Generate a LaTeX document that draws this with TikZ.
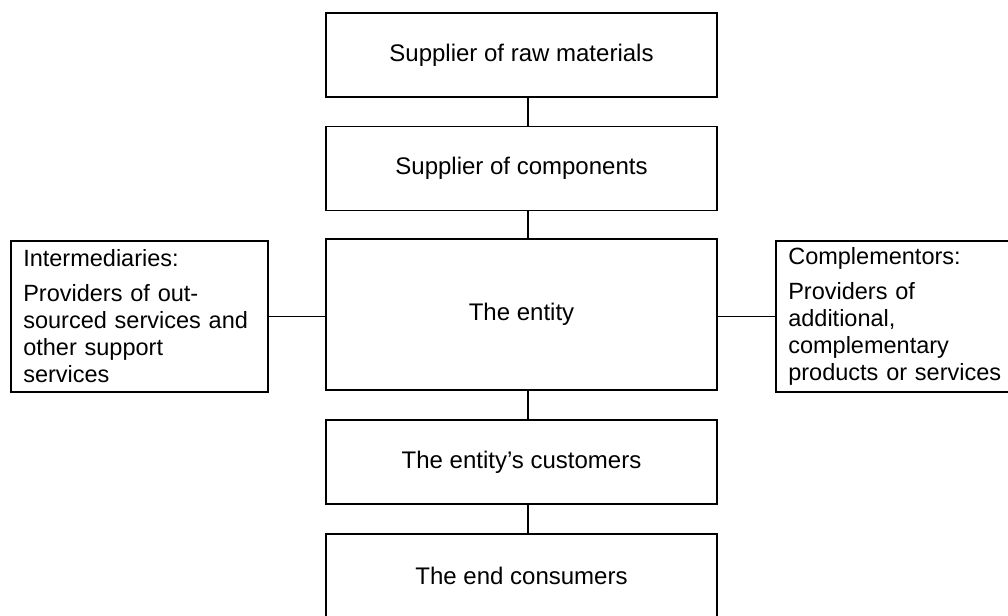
\documentclass[tikz,border=0pt]{standalone}
\usepackage{fontspec}
\setmainfont{Liberation Sans}
\begin{document}
\begin{tikzpicture}[x=1pt,y=-1pt,
  chainbox/.style={draw, line width=1.6pt, rectangle, minimum width=391pt,
    minimum height=84pt, inner sep=0pt, font=\fontsize{24}{27}\selectfont},
  sidebox/.style={draw, line width=1.6pt, rectangle, minimum height=151pt,
    text width=232pt, inner xsep=12.5pt, inner ysep=0pt, align=left,
    font=\fontsize{23.5}{27}\selectfont},
  link/.style={line width=1.6pt}]
\useasboundingbox (0,0) rectangle (1008,615);
\clip (0,0) rectangle (1008,615);

% value chain, top to bottom
\node[chainbox] (raw) at (521.5,55) {Supplier of raw materials};
\node[chainbox] (comp) at (521.5,168.5) {Supplier of components};
\node[chainbox, minimum height=151pt] (entity) at (521.5,314.5) {The entity};
\node[chainbox] (cust) at (521.5,462) {The entity’s customers};
\node[chainbox] (endc) at (521.5,576) {The end consumers};

% partners beside the entity
\node[sidebox, anchor=north west] (inter) at (10,240)
  {Intermediaries:\\[7.5pt]Providers of out-\\sourced services and\\other support\\services};
\node[sidebox, anchor=north west] (compl) at (775,240)
  {Complementors:\\[7.5pt]Providers of\\additional,\\complementary\\products or services};

% connectors
\draw[link] ([xshift=6.5pt]raw.south) -- ([xshift=6.5pt]comp.north);
\draw[link] ([xshift=6.5pt]comp.south) -- ([xshift=6.5pt]entity.north);
\draw[link] ([xshift=6.5pt]entity.south) -- ([xshift=6.5pt]cust.north);
\draw[link] ([xshift=6.5pt]cust.south) -- ([xshift=6.5pt]endc.north);
\draw[link] (inter.east) -- (inter.east -| entity.west);
\draw[link] (entity.east |- compl.west) -- (compl.west);
\end{tikzpicture}
\end{document}
